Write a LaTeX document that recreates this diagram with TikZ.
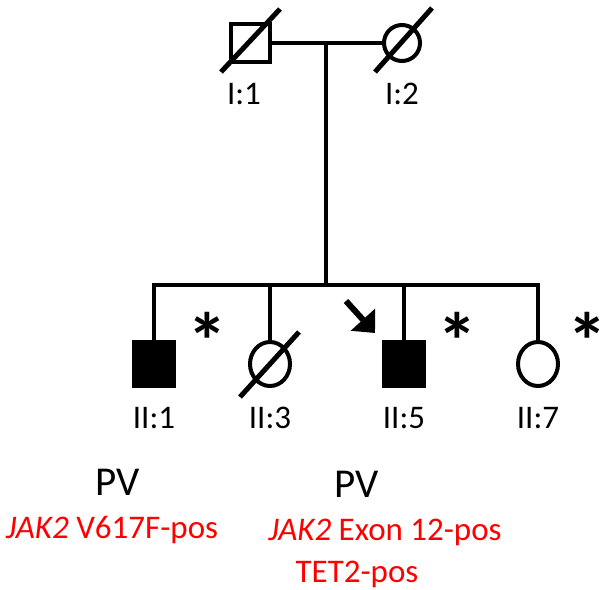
\documentclass[tikz,border=0pt]{standalone}
\usepackage{fontspec}
\setmainfont{Carlito}
\usetikzlibrary{arrows.meta,shapes.geometric,calc}
\definecolor{pvred}{RGB}{255,0,0}
\begin{document}
\begin{tikzpicture}[x=1pt,y=-1pt,line width=4pt,line join=miter,
  sq/.style={draw,rectangle,inner sep=0pt,line width=4pt},
  circ/.style={draw,ellipse,inner sep=0pt,line width=4pt},
  slash/.style={line width=5pt},
  lab/.style={font=\fontsize{33}{35}\selectfont,anchor=base,inner sep=0pt},
  dx/.style={font=\fontsize{41}{44}\selectfont,anchor=base,inner sep=0pt},
  gene/.style={font=\fontsize{33}{36}\selectfont,anchor=base,inner sep=0pt,text=pvred},
  star/.style={font=\fontsize{80}{80}\selectfont\bfseries,anchor=base,inner sep=0pt}]
\useasboundingbox (0,0) rectangle (601,589);
% generation I
\node[sq,minimum width=39pt,minimum height=38pt] (i1) at (250,43) {};
\node[circ,minimum width=36pt,minimum height=36pt] (i2) at (402,43) {};
\draw[slash] ($(i1.center)+(-29,29)$) -- ($(i1.center)+(30,-34)$);
\draw[slash] ($(i2.center)+(-27,29)$) -- ($(i2.center)+(30,-35)$);
\draw (i1.east) -- (i2.west);
\coordinate (m) at (326,42);
\coordinate (s) at (326,285);
\draw (m) -- (s);
\node[lab] (l11) at (244,104) {I:1};
\node[lab] (l12) at (402,104) {I:2};
% generation II
\node[sq,fill,minimum width=40pt,minimum height=44pt] (ii1) at (154,364) {};
\node[circ,minimum width=40pt,minimum height=44pt] (ii3) at (270,364) {};
\node[sq,fill,minimum width=40pt,minimum height=44pt] (ii5) at (404,364) {};
\node[circ,minimum width=40pt,minimum height=44pt] (ii7) at (538,364) {};
\draw[slash] ($(ii3.center)+(-30,33)$) -- ($(ii3.center)+(29,-32)$);
\draw (ii1.north) -- (ii1.north |- s) -- (ii7.north |- s) -- (ii7.north);
\draw (ii3.north) -- (ii3.north |- s);
\draw (ii5.north) -- (ii5.north |- s);
% proband arrow
\coordinate (pa) at (346,301);
\coordinate (pb) at (375,333);
\draw[line width=6pt,-{Triangle[length=18pt,width=32pt]}] (pa) -- (pb);
% asterisks
\node[star] (s1) at (207,369) {*};
\node[star] (s5) at (457,369) {*};
\node[star] (s7) at (587,369) {\makebox[0pt]{*}};
% labels
\node[lab] (l21) at (154,428) {II:1};
\node[lab] (l23) at (270,428) {II:3};
\node[lab] (l25) at (404,428) {II:5};
\node[lab] (l27) at (538,428) {II:7};
\node[dx] (pv1) at (118,495) {PV};
\node[dx] (pv5) at (357,497) {PV};
\node[gene] (g1) at (112,538) {\textit{JAK2} V617F-pos};
\node[gene] (g5) at (385,540) {\textit{JAK2} Exon 12-pos};
\node[gene] (g5b) at (357,582) {TET2-pos};
\end{tikzpicture}
\end{document}
